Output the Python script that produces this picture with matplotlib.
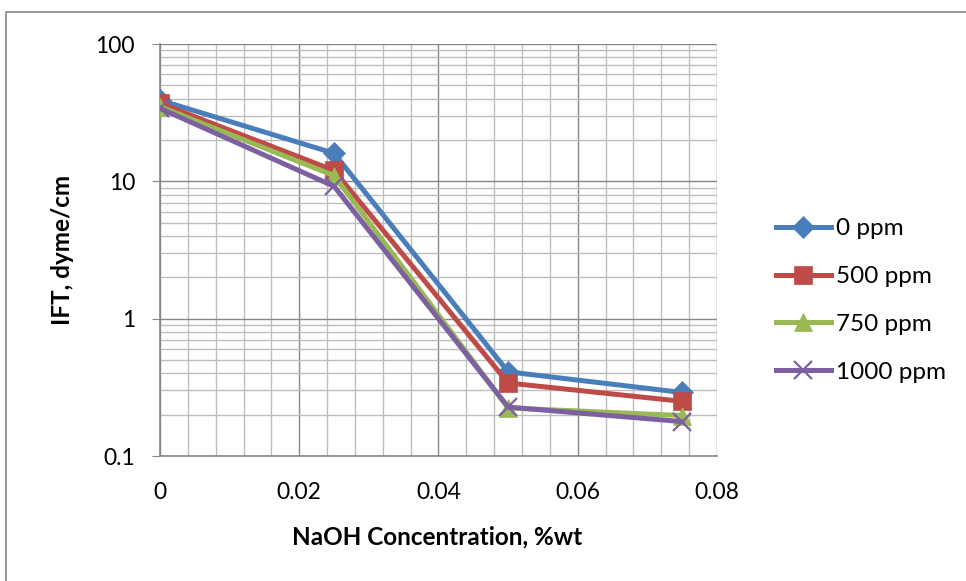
import numpy as np
import matplotlib
matplotlib.use('Agg')
import matplotlib.pyplot as plt
from matplotlib.ticker import FixedLocator, LogLocator, NullFormatter, FuncFormatter
from matplotlib.patches import Rectangle

plt.rcParams['font.family'] = ['Lato', 'DejaVu Sans']

# datos
naoh = [0.0, 0.025, 0.05, 0.075]
series_names = ['0 ppm', '500 ppm', '750 ppm', '1000 ppm']
ift_0 = [39, 16, 0.41, 0.29]
ift_500 = [37, 12, 0.34, 0.25]
ift_750 = [35, 11, 0.224, 0.197]
ift_1000 = [34, 9.2, 0.227, 0.178]
x_ticks = [0, 0.02, 0.04, 0.06, 0.08]
y_ticks = [0.1, 1, 10, 100]

colors = ['#4A7EBB', '#BE4B48', '#98B954', '#7D60A0']
markers = ['D', 's', '^', 'x']
msizes = [11, 13, 13, 13]

W, H = 966, 581
fig = plt.figure(figsize=(W / 100, H / 100), dpi=100)
ax = fig.add_axes([160/W, 1 - 456/H, (717-160)/W, (456-44)/H])

# marco exterior del grafico
fig.patches.append(Rectangle((6/W, -0.1), 1.2, 1 - 12/H + 0.1,
                             transform=fig.transFigure, fill=False,
                             edgecolor='#868686', linewidth=1.2))

for vals, name, c, m, ms in zip([ift_0, ift_500, ift_750, ift_1000],
                               series_names, colors, markers, msizes):
    ax.plot(naoh, vals, color=c, linewidth=3.6, marker=m, markersize=ms,
            markeredgewidth=1.6 if m == 'x' else 0.5, markeredgecolor=c,
            label=name, zorder=3)

ax.set_yscale('log')
ax.set_ylim(0.1, 100)
ax.set_xlim(0, 0.08)

ax.xaxis.set_major_locator(FixedLocator(x_ticks))
ax.xaxis.set_minor_locator(FixedLocator(np.arange(0, 0.0801, 0.004)))
ax.xaxis.set_major_formatter(FuncFormatter(lambda v, p: '0' if v == 0 else f'{v:g}'))
ax.yaxis.set_major_locator(FixedLocator(y_ticks))
ax.yaxis.set_minor_locator(LogLocator(base=10, subs=np.arange(2, 10)))
ax.yaxis.set_minor_formatter(NullFormatter())
ax.yaxis.set_major_formatter(FuncFormatter(lambda v, p: f'{v:g}'))

ax.grid(True, which='major', color='#868686', linewidth=1.0)
ax.grid(True, which='minor', color='#BDBDBD', linewidth=1.0)
ax.set_axisbelow(True)

for s in ['top', 'right']:
    ax.spines[s].set_visible(False)
for s in ['left', 'bottom']:
    ax.spines[s].set_color('#868686')
    ax.spines[s].set_linewidth(1.2)

ax.tick_params(axis='y', which='major', length=6, color='#868686', labelsize=16.5, pad=12)
ax.tick_params(axis='y', which='minor', length=0)
ax.tick_params(axis='x', which='both', length=0, labelsize=16.5, pad=19)

ax.set_xlabel('NaOH Concentration, %wt', fontsize=17.5, fontweight='bold')
ax.set_ylabel('IFT, dyme/cm', fontsize=17.5, fontweight='bold')
ax.xaxis.label.set_va('center')
ax.xaxis.set_label_coords(0.498, -(537 - 456) / 412)
ax.yaxis.label.set_va('center')
ax.yaxis.set_label_coords((62 - 160) / 557, 0.5)

ax.legend(loc='center left', bbox_to_anchor=(776/W, 1 - 300.5/H),
          bbox_transform=fig.transFigure, frameon=False, borderpad=0,
          borderaxespad=0, fontsize=17.5, handlelength=2.25,
          handletextpad=0.2, labelspacing=1.1)

fig.savefig('out.png', dpi=100)
